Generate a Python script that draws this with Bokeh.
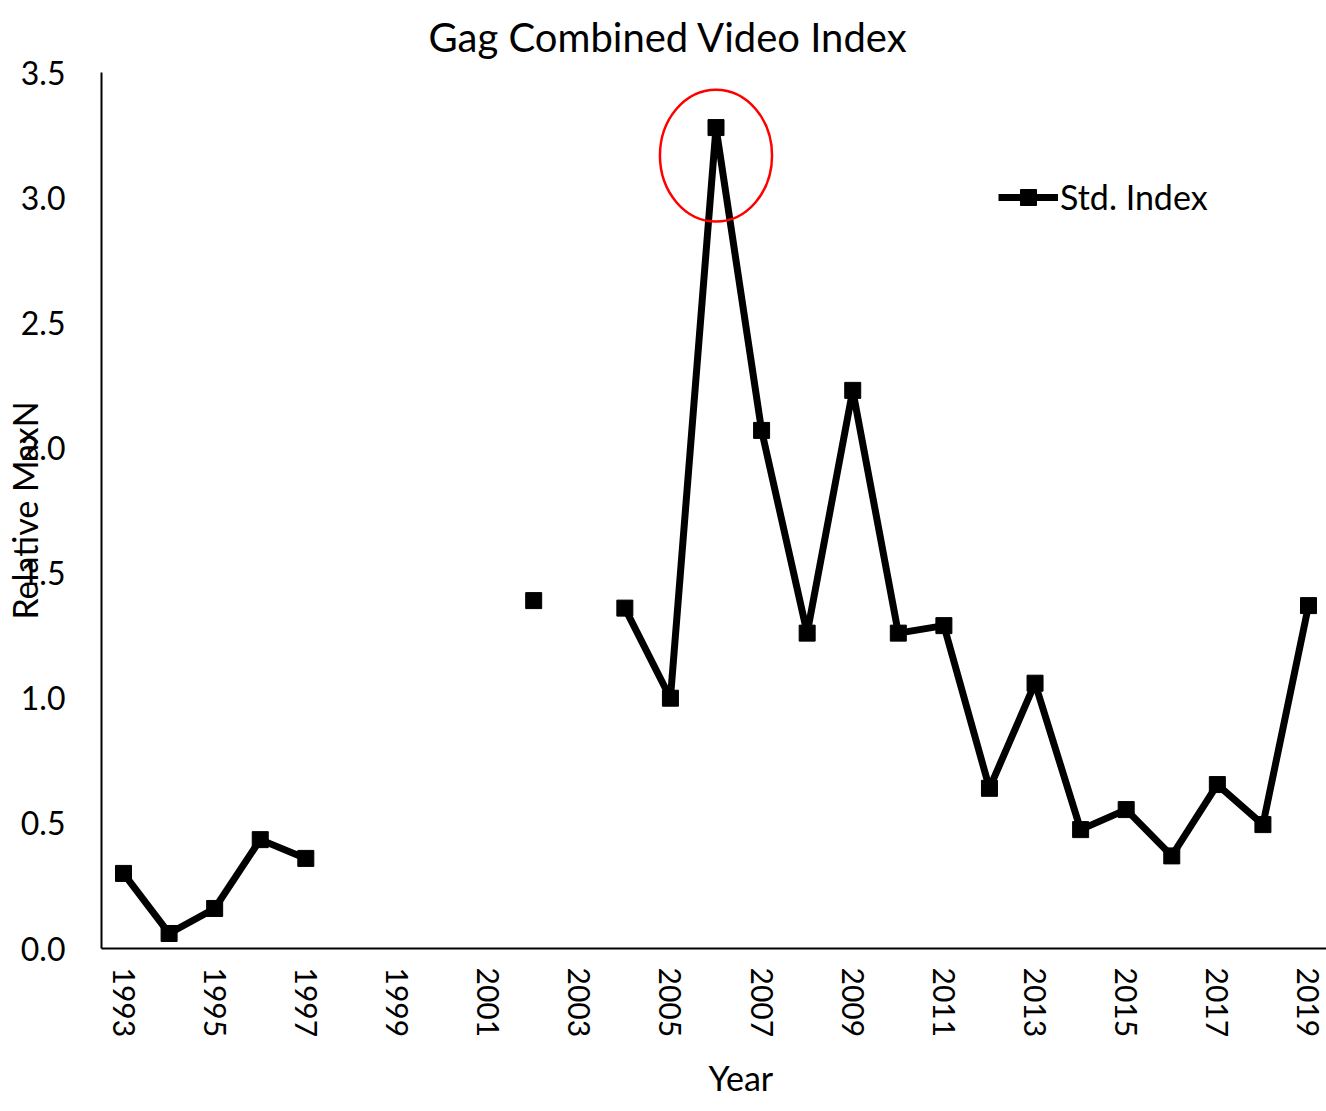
import math
from bokeh.plotting import figure
from bokeh.models import Range1d, FixedTicker, Legend, LegendItem, PrintfTickFormatter, Title
from bokeh.embed import file_html
from bokeh.resources import INLINE

years = list(range(1993, 2020))
std_index = [0.30, 0.06, 0.16, 0.435, 0.36, float("nan"), float("nan"), float("nan"), float("nan"),
             1.39, float("nan"), 1.36, 1.00, 3.28, 2.07, 1.26, 2.23, 1.26, 1.29, 0.64, 1.06,
             0.475, 0.555, 0.37, 0.655, 0.495, 1.37]
x_ticks = list(range(1993, 2020, 2))
y_ticks = [0.0, 0.5, 1.0, 1.5, 2.0, 2.5, 3.0, 3.5]
highlight_year = [2006]
highlight_center = [3.168]

FONT = "Lato"

p = figure(width=1326, height=1111, output_backend="svg", toolbar_location=None,
           x_range=Range1d(1992.517, 2019.395), y_range=Range1d(0, 3.5),
           min_border_left=101, min_border_right=0, min_border_top=72, min_border_bottom=163)
p.title.text = "Gag Combined Video Index"
p.title.align = "left"
p.title.text_font = FONT
p.title.text_font_size = "40px"
p.title.text_font_style = "normal"
p.title.text_color = "black"
p.title.offset = 327
p.title.vertical_align = "top"
p.title.standoff = 20
p.outline_line_color = None
p.grid.visible = False

p.xaxis.ticker = FixedTicker(ticks=x_ticks)
p.yaxis.ticker = FixedTicker(ticks=y_ticks)
p.yaxis.formatter = PrintfTickFormatter(format="%.1f")
for ax in (p.xaxis, p.yaxis):
    ax.major_tick_line_color = None
    ax.minor_tick_line_color = None
    ax.axis_line_width = 2
    ax.axis_line_color = "black"
    ax.major_label_text_font = FONT
    ax.major_label_text_color = "black"
    ax.axis_label_text_font = FONT
    ax.axis_label_text_font_size = "34px"
    ax.axis_label_text_font_style = "normal"
    ax.axis_label_text_color = "black"
p.xaxis.major_label_text_font_size = "30px"
p.yaxis.major_label_text_font_size = "32px"
p.xaxis.major_label_orientation = -math.pi / 2
p.xaxis.major_label_standoff = 13
p.yaxis.major_label_standoff = 30
p.yaxis.axis_label = "Relative MaxN"
p.yaxis.axis_label_standoff = -27

xlabel = Title(text="Year", align="left", text_font=FONT, text_font_size="34px",
               text_font_style="normal", text_color="black", offset=607, standoff=28)
p.add_layout(xlabel, "below")

ln = p.line(years, std_index, line_color="black", line_width=7)
mk = p.scatter(years, std_index, marker="square", size=16, fill_color="black", line_color="black")
p.ellipse(x=highlight_year, y=highlight_center, width=2.46, height=0.527,
          fill_color=None, line_color="red", line_width=2.5)

legend = Legend(items=[LegendItem(label="Std. Index", renderers=[ln, mk])],
                location=(897, 731), border_line_color=None, background_fill_alpha=0,
                label_text_font=FONT, label_text_font_size="34px", label_text_color="black",
                glyph_width=60, glyph_height=40, label_standoff=2, padding=0, margin=0)
p.add_layout(legend)

open("out.html", "w").write(file_html(p, INLINE))
